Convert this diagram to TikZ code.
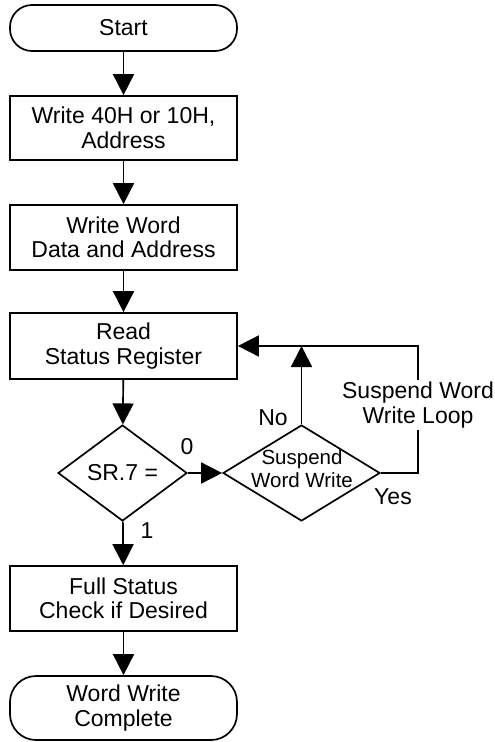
\documentclass[tikz,border=0pt]{standalone}
\usepackage{fontspec}
\setmainfont{Liberation Sans}
\usetikzlibrary{arrows.meta,shapes.geometric}
\begin{document}
\begin{tikzpicture}[x=1pt,y=1pt,
  line width=1.7pt,
  every node/.style={font=\fontsize{23}{24.5}\selectfont, align=center, inner sep=0pt},
  procbox/.style={draw, minimum width=227, minimum height=65},
  termbox/.style={draw, minimum width=227, rounded corners=22},
  decbox/.style={draw, diamond, inner sep=0pt},
  flow/.style={-{Triangle[length=21pt,width=21pt]}},
  lbl/.style={font=\fontsize{23}{24.5}\selectfont}
]
\useasboundingbox (0,0) rectangle (495,-742);
\node[termbox, minimum height=46] (start) at (123.5,-28) {Start};
\node[procbox, minimum height=64] (b1) at (123.5,-128) {Write 40H or 10H,\\Address};
\node[procbox] (b2) at (123.5,-237.5) {Write Word\\Data and Address};
\node[procbox, minimum height=66] (b3) at (123.5,-346) {Read\\Status Register};
\node[decbox, minimum width=129, minimum height=96] (d1) at (122.5,-473) {};
\node (d1t) at (d1.center) {SR.7 =};
\node[decbox, minimum width=157, minimum height=96] (d2) at (301.5,-473) {};
\node[font=\fontsize{20.5}{23}\selectfont] (d2t) at (302,-469) {Suspend\\Word Write};
\node[procbox] (b4) at (123.5,-598.5) {Full Status\\Check if Desired};
\node[termbox, minimum height=64, rounded corners=26] (end) at (123.5,-708) {Word Write\\Complete};

\draw[flow] (start) -- (b1);
\draw[flow] (b1) -- (b2);
\draw[flow] (b2) -- (b3);
\draw[flow] (b3) -- (d1);
\draw[flow] (d1) -- (b4);
\draw[flow] (b4) -- (end);
\draw[flow] (d1.east) -- (d2.west);
\coordinate (lc) at (418,-346);
\draw[flow] (d2.north) -- (d2.north |- lc);
\draw[flow] (d2.east) -| (lc) -- (b3.east);
\node[lbl, fill=white, inner sep=2pt] (looplbl) at (418,-405) {Suspend Word\\Write Loop};
\node[lbl] (l0) at (187,-447) {0};
\node[lbl] (l1) at (147,-531) {1};
\node[lbl] (lno) at (273,-418) {No};
\node[lbl] (lyes) at (393,-497) {Yes};
\end{tikzpicture}
\end{document}
